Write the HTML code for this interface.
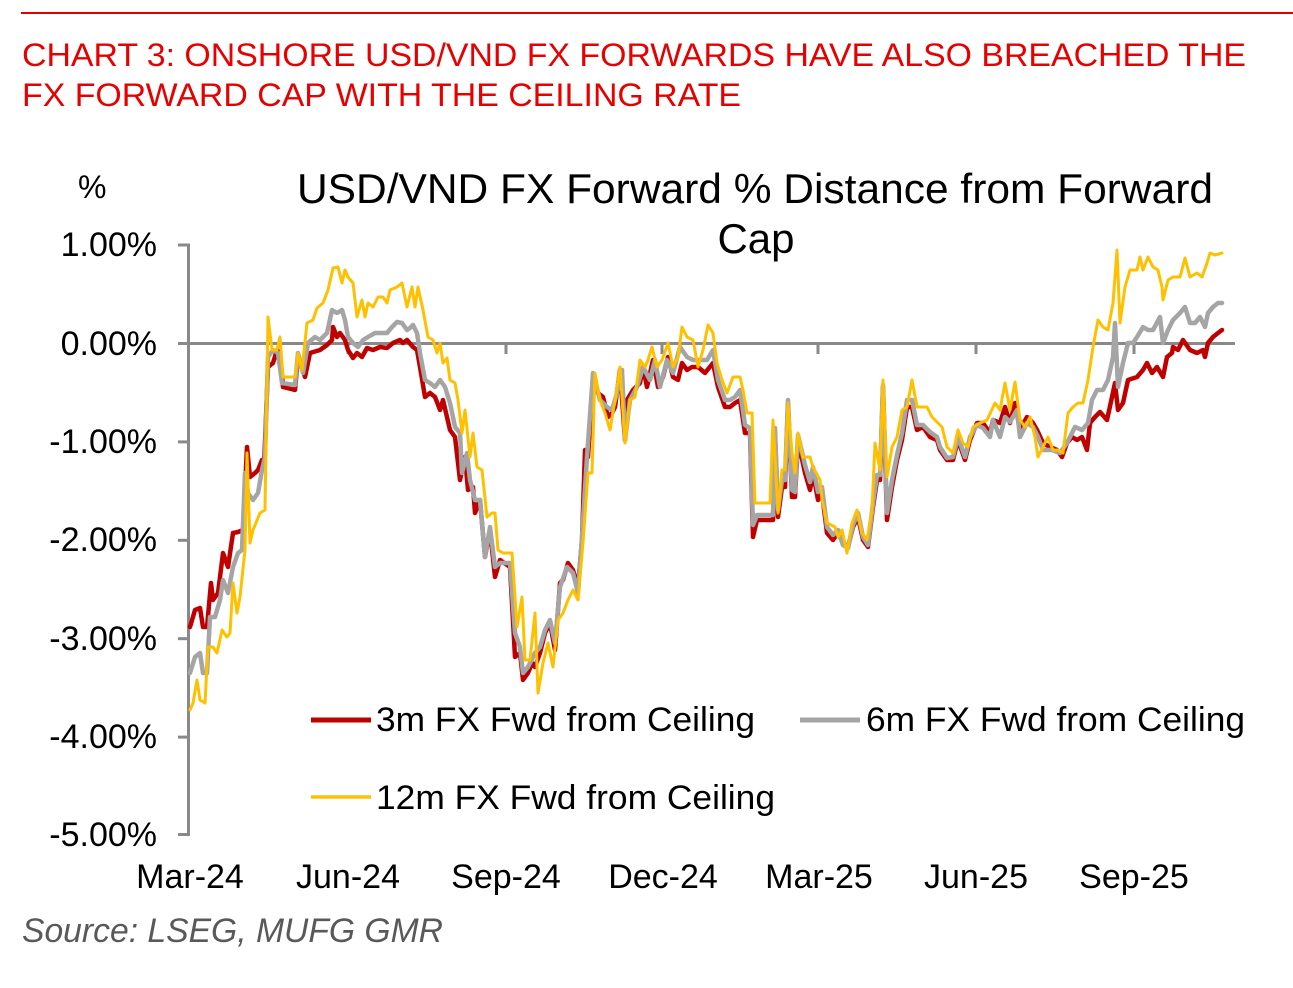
<!DOCTYPE html>
<html><head><meta charset="utf-8"><style>
html,body{margin:0;padding:0;background:#fff;width:1293px;height:988px;overflow:hidden}
svg{display:block}
text{font-family:"Liberation Sans",Arial,sans-serif}
</style></head><body>
<svg width="1293" height="988" viewBox="0 0 1293 988" xmlns="http://www.w3.org/2000/svg">
<rect width="1293" height="988" fill="#fff"/>
<line x1="21" y1="13" x2="1293" y2="13" stroke="#E60000" stroke-width="2"/>
<text x="22" y="66" font-size="32" fill="#E60000" textLength="1224" lengthAdjust="spacingAndGlyphs">CHART 3: ONSHORE USD/VND FX FORWARDS HAVE ALSO BREACHED THE</text>
<text x="22" y="106" font-size="32" fill="#E60000" textLength="719" lengthAdjust="spacingAndGlyphs">FX FORWARD CAP WITH THE CEILING RATE</text>

<text x="78" y="198" font-size="32" fill="#000">%</text>
<text x="297" y="203" font-size="42" fill="#000" textLength="916" lengthAdjust="spacingAndGlyphs">USD/VND FX Forward % Distance from Forward</text>
<text x="756" y="253" font-size="42" fill="#000" text-anchor="middle">Cap</text>

<!-- y labels -->
<g font-size="34" fill="#000" text-anchor="end">
<text x="157" y="256">1.00%</text>
<text x="157" y="355">0.00%</text>
<text x="157" y="453">-1.00%</text>
<text x="157" y="551">-2.00%</text>
<text x="157" y="650">-3.00%</text>
<text x="157" y="748">-4.00%</text>
<text x="157" y="846">-5.00%</text>
</g>
<!-- x labels -->
<g font-size="34" fill="#000" text-anchor="middle">
<text x="190" y="888">Mar-24</text>
<text x="348" y="888">Jun-24</text>
<text x="506" y="888">Sep-24</text>
<text x="663" y="888">Dec-24</text>
<text x="819" y="888">Mar-25</text>
<text x="976" y="888">Jun-25</text>
<text x="1134" y="888">Sep-25</text>
</g>

<!-- axes -->
<g stroke="#898989" stroke-width="3" fill="none">
<line x1="188.5" y1="244" x2="188.5" y2="835.5"/>
<line x1="178" y1="245" x2="190" y2="245"/>
<line x1="178" y1="343.5" x2="190" y2="343.5"/>
<line x1="178" y1="441.9" x2="190" y2="441.9"/>
<line x1="178" y1="540.3" x2="190" y2="540.3"/>
<line x1="178" y1="638.7" x2="190" y2="638.7"/>
<line x1="178" y1="737.1" x2="190" y2="737.1"/>
<line x1="178" y1="834.5" x2="190" y2="834.5"/>
<line x1="187" y1="343.5" x2="1235" y2="343.5"/>
<line x1="348" y1="343.5" x2="348" y2="354"/>
<line x1="506" y1="343.5" x2="506" y2="354"/>
<line x1="662" y1="343.5" x2="662" y2="354"/>
<line x1="818" y1="343.5" x2="818" y2="354"/>
<line x1="976" y1="343.5" x2="976" y2="354"/>
<line x1="1134" y1="343.5" x2="1134" y2="354"/>
</g>

<!-- series -->
<g fill="none" stroke-linejoin="round" stroke-linecap="round">
<polyline stroke="#C00000" stroke-width="4.5" points="190,627 195,610 200,608 203,627 207,627 211,583 213,600 218,593 223,553 228,567 233,533 238,532 243,530 247,447 250,477 255,473 258,470 262,460 264,467 268,367 273,363 277,350 280,353 283,387 295,390 298,357 302,367 305,377 310,353 320,350 327,345 332,340 333,327 337,337 340,333 345,340 348,350 353,358 357,353 362,357 367,348 373,350 380,347 387,348 393,343 400,340 403,343 407,340 413,347 417,350 420,367 425,397 430,393 435,397 440,410 443,400 450,430 455,437 460,480 465,457 468,490 473,487 475,513 480,500 485,557 490,530 495,577 500,560 510,567 515,657 520,653 523,680 528,673 532,663 535,667 540,653 545,633 550,623 555,650 560,583 563,580 568,563 573,570 578,587 582,540 585,450 588,457 593,377 598,393 603,397 608,417 612,413 615,407 620,370 625,440 627,400 633,390 640,383 643,367 647,387 653,360 658,387 663,377 668,357 673,377 678,380 682,363 687,370 692,367 698,367 705,373 713,363 718,387 725,407 730,407 735,403 740,400 745,433 750,433 753,537 757,520 767,520 773,520 775,433 778,517 782,487 785,487 788,403 792,497 795,497 798,440 805,473 810,490 813,473 818,500 822,493 827,533 833,540 838,533 843,543 848,547 853,527 858,517 863,540 868,547 873,507 877,480 880,480 883,387 887,520 892,487 897,460 902,440 907,407 912,407 917,430 923,427 930,437 937,440 940,450 947,460 953,460 958,440 965,460 970,440 977,423 983,423 990,433 993,420 1000,423 1005,407 1010,423 1015,403 1020,430 1027,417 1033,423 1037,430 1043,443 1050,447 1057,450 1062,457 1067,443 1072,437 1077,440 1082,437 1087,450 1090,423 1095,417 1100,412 1107,420 1112,397 1115,383 1118,410 1123,403 1128,380 1137,377 1143,370 1147,363 1152,373 1157,367 1163,377 1167,357 1172,353 1173,347 1178,350 1183,340 1190,350 1197,353 1203,350 1205,357 1208,343 1213,337 1218,333 1222,330"/>
<polyline stroke="#A5A5A5" stroke-width="4.5" points="190,673 195,657 200,653 203,673 207,673 210,617 215,617 220,600 223,580 228,593 233,567 238,553 242,550 245,473 248,493 253,500 258,493 262,470 265,457 268,357 273,350 278,353 282,383 295,385 298,353 303,373 308,343 315,337 320,340 327,333 332,310 337,313 342,310 345,320 348,337 353,343 358,347 363,340 368,337 375,333 382,333 387,333 392,327 397,322 402,323 407,330 410,328 413,325 417,333 420,353 425,380 430,383 435,387 440,380 445,387 450,403 455,427 460,433 462,473 467,453 470,480 475,500 480,500 485,557 490,527 495,567 500,563 510,563 515,633 520,647 523,673 528,667 535,653 540,647 545,630 550,620 555,643 560,587 567,567 573,573 578,593 582,537 587,457 593,373 600,400 607,407 612,410 617,393 622,370 625,440 630,400 637,387 643,367 650,380 655,360 660,387 667,360 673,373 680,347 687,357 693,360 700,360 707,360 713,350 718,380 725,400 730,400 735,397 740,390 745,425 750,428 753,525 757,515 767,515 773,515 775,428 778,510 782,480 785,480 788,400 792,490 795,492 798,435 805,465 810,482 813,467 818,492 822,487 827,527 833,535 838,530 843,545 848,548 853,525 858,513 863,537 868,545 873,503 877,475 880,475 883,385 887,513 892,480 897,455 902,433 907,400 912,400 917,425 923,425 930,432 937,437 940,447 947,458 953,457 958,437 965,457 970,437 977,425 983,428 990,437 993,420 1000,437 1005,417 1010,422 1017,410 1020,437 1027,423 1033,427 1038,437 1043,450 1052,450 1060,453 1067,443 1075,427 1082,430 1088,423 1092,400 1097,390 1103,390 1108,380 1113,357 1115,323 1118,387 1123,363 1128,343 1133,343 1137,337 1143,327 1148,330 1153,330 1160,317 1163,343 1168,330 1173,320 1180,313 1185,307 1190,323 1195,323 1200,317 1205,327 1208,313 1213,307 1218,303 1222,303"/>
<polyline stroke="#FFC000" stroke-width="3" points="190,710 193,703 197,680 200,700 205,703 208,647 213,647 217,653 222,630 227,637 230,633 233,583 237,613 240,597 245,550 247,453 250,543 253,530 260,513 265,510 268,317 272,350 277,350 280,337 283,377 295,377 298,353 302,370 307,323 313,320 317,308 323,303 328,290 333,268 338,267 342,283 345,270 348,277 353,283 357,317 362,300 365,317 368,303 373,307 378,297 383,297 387,303 390,290 397,287 402,283 407,307 412,287 415,307 418,287 423,310 428,337 433,340 437,353 440,343 443,363 447,358 450,380 455,383 458,400 462,433 465,410 470,457 473,433 477,467 482,470 487,517 492,513 495,513 498,550 503,553 512,553 517,627 522,597 525,660 530,660 535,613 538,693 543,663 548,643 553,667 558,620 563,613 568,600 573,590 578,600 583,543 588,473 592,473 595,373 600,400 605,413 610,430 615,400 620,367 625,443 630,400 635,397 640,360 645,367 648,360 652,347 657,367 662,360 668,343 673,367 678,357 682,327 687,337 693,340 698,367 703,350 708,325 713,333 717,363 722,380 727,393 733,377 740,377 743,390 747,413 752,413 755,503 770,503 773,420 778,513 782,470 785,470 788,403 792,453 795,473 798,433 803,457 810,457 813,467 820,480 822,500 827,523 835,527 838,537 842,530 847,553 852,523 857,510 862,533 867,540 872,510 875,443 880,470 883,380 887,477 892,447 897,437 902,410 907,407 912,380 917,407 927,407 932,417 938,423 942,427 947,447 953,453 958,430 963,443 968,447 973,427 980,423 987,420 995,403 1000,410 1005,383 1010,410 1015,382 1020,420 1025,427 1030,417 1035,437 1038,457 1043,447 1048,437 1053,450 1058,450 1063,453 1068,413 1073,407 1078,403 1083,403 1088,380 1093,347 1098,320 1103,327 1108,330 1113,303 1117,250 1120,323 1125,287 1130,270 1137,270 1140,257 1143,270 1148,257 1153,267 1158,270 1162,287 1163,300 1168,280 1173,277 1180,277 1185,258 1190,277 1197,273 1202,277 1207,263 1210,253 1215,255 1222,253"/>
</g>

<!-- legend -->
<line x1="311" y1="720" x2="371" y2="720" stroke="#C00000" stroke-width="5"/>
<text x="376" y="731" font-size="34" fill="#000" textLength="379" lengthAdjust="spacingAndGlyphs">3m FX Fwd from Ceiling</text>
<line x1="800" y1="720" x2="860" y2="720" stroke="#A5A5A5" stroke-width="5"/>
<text x="866" y="731" font-size="34" fill="#000" textLength="379" lengthAdjust="spacingAndGlyphs">6m FX Fwd from Ceiling</text>
<line x1="311" y1="797" x2="371" y2="797" stroke="#FFC000" stroke-width="3.5"/>
<text x="376" y="809" font-size="34" fill="#000" textLength="399" lengthAdjust="spacingAndGlyphs">12m FX Fwd from Ceiling</text>

<text x="22" y="942" font-size="34" font-style="italic" fill="#595959" textLength="421" lengthAdjust="spacingAndGlyphs">Source: LSEG, MUFG GMR</text>
</svg>
</body></html>
